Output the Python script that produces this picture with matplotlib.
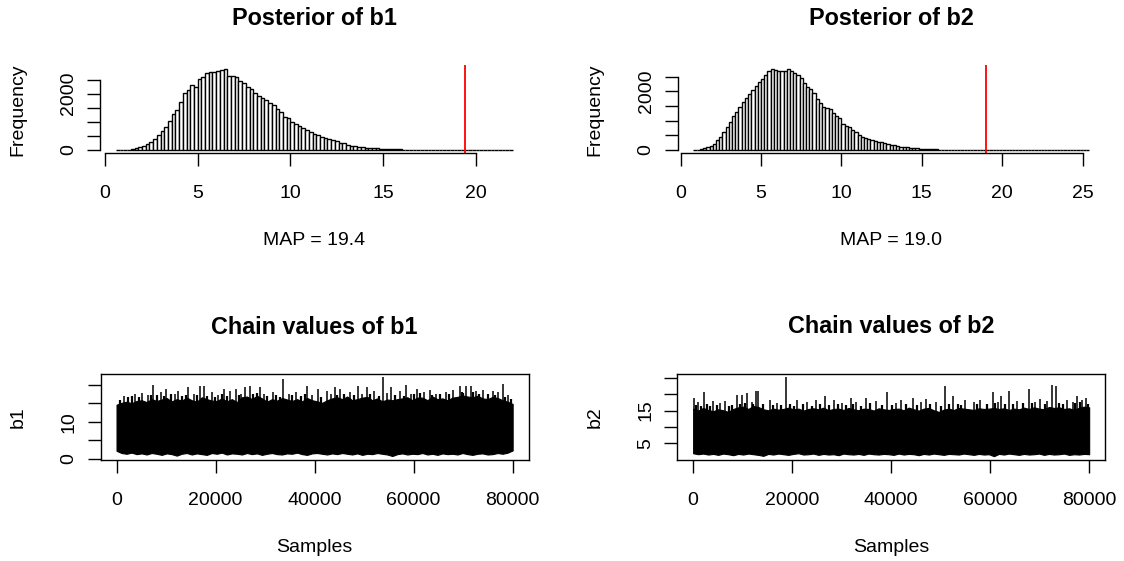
import numpy as np
import matplotlib
matplotlib.use("Agg")
import matplotlib.pyplot as plt
from matplotlib import transforms

# ---------------- data ----------------
b1_break_start = 0.6
b2_break_start = 0.8
bin_width = 0.2
b1_counts = [2, 4, 8, 15, 30, 60, 95, 140, 213, 296,
             391, 521, 687, 830, 1043, 1268, 1422, 1718, 2015, 2133,
             2311, 2252, 2512, 2607, 2726, 2761, 2785, 2820, 2850, 2890,
             2631, 2631, 2583, 2465, 2394, 2252, 2157, 2015, 1920, 1837,
             1778, 1659, 1600, 1446, 1363, 1185, 1126, 1007, 912, 865,
             770, 711, 652, 569, 533, 474, 415, 379, 356, 320,
             261, 237, 178, 150, 130, 115, 100, 85, 75, 65,
             55, 48, 40, 34, 30, 25, 21, 18, 15, 12,
             10, 8, 6, 5, 4, 3, 3, 2, 2, 2,
             1, 1, 1, 1, 1, 1, 0, 1, 0, 1,
             0, 1, 0, 1, 0, 1, 1]
b2_counts = [5, 15, 30, 55, 90, 150, 220, 330, 450, 600,
             780, 960, 1150, 1300, 1480, 1640, 1780, 1900, 2050, 2180,
             2300, 2420, 2560, 2700, 2750, 2730, 2680, 2700, 2700, 2770,
             2700, 2631, 2551, 2438, 2291, 2132, 2064, 1928, 1724, 1610,
             1474, 1418, 1383, 1270, 1157, 1077, 880, 816, 771, 680,
             601, 510, 454, 397, 363, 340, 306, 284, 261, 227,
             204, 170, 159, 147, 113, 100, 90, 79, 68, 57,
             48, 40, 34, 30, 25, 21, 18, 15, 12, 10,
             8, 7, 6, 5, 4, 3, 3, 2, 2, 2,
             1, 1, 1, 1, 1, 0, 1, 0, 1, 1,
             0, 1, 0, 0, 1, 0, 1, 0, 1, 0,
             0, 1, 0, 1, 0, 1, 0, 1, 0, 1,
             0, 1, 1]
map_b1 = 19.4
map_b2 = 19.0
n_samples = 80000

# chain envelopes, one value per 1000 samples
b1_top = [14.6, 15.1, 15.4, 15.0, 15.6, 15.8, 15.3, 16.1, 15.6, 16.0,
          16.4, 15.5, 16.1, 15.7, 16.5, 15.8, 15.4, 16.6, 16.1, 15.7,
          15.6, 16.3, 15.5, 16.1, 15.3, 16.6, 16.8, 16.1, 17.0, 16.3,
          15.4, 16.1, 15.7, 16.4, 16.0, 15.6, 16.1, 15.5, 16.4, 15.8,
          15.5, 15.1, 15.8, 16.3, 16.6, 16.1, 16.8, 15.8, 16.1, 16.5,
          16.7, 15.8, 16.3, 15.5, 16.0, 15.8, 16.1, 16.3, 16.6, 15.8,
          16.5, 16.5, 15.8, 16.8, 16.1, 16.3, 15.8, 16.5, 16.7, 17.1,
          16.8, 16.6, 17.0, 16.3, 16.1, 16.7, 16.4, 15.8, 15.4, 14.8]
b1_low = [2.2, 1.6, 1.4, 1.7, 1.3, 1.5, 1.2, 1.6, 1.4, 1.1,
          1.5, 1.3, 0.9, 1.4, 1.6, 1.2, 1.5, 1.3, 1.1, 1.6,
          1.4, 1.7, 1.2, 1.5, 1.4, 1.2, 1.6, 1.3, 1.5, 1.1,
          1.4, 1.6, 1.3, 1.2, 1.5, 1.4, 1.7, 1.3, 1.1, 1.5,
          1.6, 1.4, 1.2, 1.5, 1.3, 1.6, 1.4, 1.2, 1.5, 1.1,
          1.4, 1.3, 1.6, 1.4, 1.2, 0.8, 1.3, 1.5, 1.2, 1.4,
          1.3, 1.6, 1.2, 1.4, 1.1, 1.5, 1.3, 1.4, 1.2, 1.6,
          1.3, 1.1, 1.4, 1.5, 1.2, 1.3, 1.6, 1.4, 1.7, 2.3]
b1_spike_at = [1500, 3800, 5200, 6300, 7390, 9000, 10090, 11800, 12500, 14450,
               15600, 16940, 17610, 19300, 20500, 21710, 23000, 24200, 25100, 26020,
               26890, 28910, 29800, 31500, 33620, 34800, 36200, 38530, 39500, 40680,
               42500, 43300, 44040, 45190, 47200, 48750, 49600, 50570, 52000, 53800,
               54700, 55480, 57300, 58510, 59400, 60660, 62000, 63220, 64500, 66500,
               68000, 69270, 70610, 71620, 72630, 74000, 75990, 77000, 78010, 79000]
b1_spike_to = [17.0, 17.6, 17.8, 17.2, 19.9, 18.0, 18.9, 17.5, 18.2, 19.4,
               17.4, 19.7, 19.7, 17.9, 17.3, 18.9, 18.2, 18.9, 17.6, 19.3,
               19.5, 19.3, 17.4, 18.0, 21.5, 17.5, 18.1, 19.7, 17.3, 18.9,
               18.3, 17.6, 19.3, 18.9, 18.0, 19.7, 17.5, 19.3, 18.4, 22.0,
               17.7, 19.3, 18.2, 20.0, 17.4, 18.9, 18.0, 18.6, 17.6, 18.1,
               18.5, 19.5, 19.7, 19.5, 18.4, 18.6, 18.4, 18.0, 20.1, 17.2]
b1_minor_at = [600, 2400, 3100, 4500, 7000, 8200, 9600, 11000, 13300, 14000,
               16300, 18200, 19900, 21200, 22300, 24700, 27500, 28300, 30400, 32300,
               33100, 35500, 37300, 38000, 41300, 44600, 46000, 48000, 51200, 53100,
               56200, 58000, 60000, 61300, 63800, 65300, 67200, 69700, 70000, 72000,
               73300, 75000, 76500, 78500, 79600]
b1_minor_to = [15.9, 16.6, 16.9, 16.8, 17.1, 17.3, 16.9, 17.4, 17.0, 17.2,
               17.3, 17.0, 16.8, 17.6, 17.0, 17.2, 17.4, 17.8, 16.9, 17.1,
               16.8, 17.2, 17.0, 17.5, 16.7, 17.3, 17.6, 17.2, 17.5, 17.0,
               17.3, 17.0, 17.4, 17.7, 17.2, 17.5, 17.6, 18.0, 17.8, 17.9,
               17.4, 17.6, 17.3, 16.8, 16.2]

b2_top = [15.6, 15.0, 15.8, 15.2, 14.8, 15.4, 15.1, 14.6, 15.5, 16.0,
          16.2, 15.5, 16.4, 16.1, 15.4, 15.1, 15.6, 15.3, 15.5, 15.9,
          15.4, 15.6, 15.0, 15.5, 15.7, 15.4, 15.9, 15.1, 15.5, 15.6,
          15.2, 15.8, 15.4, 15.1, 15.6, 15.5, 15.0, 15.7, 15.4, 15.2,
          15.5, 15.6, 15.1, 15.9, 15.4, 15.0, 15.6, 15.8, 15.1, 14.6,
          15.3, 15.6, 15.2, 15.8, 15.6, 15.4, 15.2, 15.7, 15.5, 15.6,
          15.8, 15.5, 15.7, 15.2, 15.6, 15.4, 15.9, 15.5, 16.0, 15.6,
          15.4, 16.1, 15.8, 16.0, 15.5, 15.7, 15.2, 15.9, 16.2, 16.0]
b2_low = [1.9, 1.6, 1.8, 1.5, 1.7, 1.4, 1.8, 1.6, 1.3, 1.7,
          1.5, 1.8, 1.6, 1.4, 1.1, 1.7, 1.5, 1.8, 1.6, 1.4,
          1.7, 1.9, 1.5, 1.6, 1.8, 1.4, 1.7, 1.5, 1.6, 1.3,
          1.8, 1.6, 1.5, 1.7, 1.4, 1.8, 1.6, 1.5, 1.7, 1.6,
          1.4, 1.8, 1.5, 1.7, 1.6, 1.3, 1.7, 1.5, 1.8, 1.6,
          1.4, 1.7, 1.6, 1.5, 1.8, 1.6, 1.4, 1.7, 1.5, 1.6,
          1.0, 1.7, 1.5, 1.8, 1.6, 1.4, 1.7, 1.5, 1.6, 1.8,
          1.4, 1.7, 1.5, 1.6, 1.8, 1.4, 1.6, 1.5, 1.7, 1.6]
b2_spike_at = [130, 1000, 2150, 4000, 5500, 6500, 8890, 9900, 10910, 11800,
               12600, 13130, 15500, 17000, 18660, 21000, 23000, 24860, 26610, 28500,
               30000, 31800, 33000, 34970, 37000, 39210, 41000, 42000, 44400, 46000,
               47100, 49000, 50800, 52490, 55000, 56800, 58000, 60570, 61500, 62120,
               63800, 65500, 67850, 69000, 70000, 71500, 72430, 73240, 75500, 76800,
               77620, 78600, 79440]
b2_spike_to = [18.9, 17.5, 20.7, 18.0, 17.2, 17.9, 19.9, 19.7, 20.4, 17.6,
               21.1, 20.9, 18.3, 17.4, 25.3, 18.1, 17.5, 18.4, 19.4, 18.2,
               17.3, 18.9, 17.6, 18.9, 18.0, 20.7, 17.4, 18.3, 18.9, 17.5,
               18.6, 17.6, 22.6, 19.4, 18.2, 17.5, 18.4, 20.6, 17.7, 19.4,
               20.9, 18.0, 21.6, 17.6, 18.5, 17.8, 22.7, 22.4, 18.3, 17.6,
               19.4, 18.1, 18.9]
b2_minor_at = [500, 1600, 2800, 3400, 4800, 7200, 7900, 9400, 10400, 12000,
               14200, 16200, 17800, 19500, 20300, 22200, 24000, 25600, 27400, 29200,
               30800, 32200, 34000, 35700, 38200, 40200, 43000, 45200, 47800, 50000,
               51600, 53500, 54200, 57400, 59300, 61000, 63000, 64600, 66600, 68400,
               71000, 73900, 74700, 77200, 78100, 79800]
b2_minor_to = [16.8, 16.4, 16.9, 16.5, 16.6, 16.3, 16.8, 17.1, 17.3, 17.0,
               16.9, 16.7, 16.6, 17.0, 16.4, 16.9, 16.5, 17.1, 16.8, 17.0,
               16.6, 16.9, 16.5, 17.2, 16.8, 16.6, 17.0, 16.7, 17.1, 16.5,
               17.0, 17.1, 16.8, 17.0, 16.9, 17.3, 17.1, 17.0, 17.2, 17.4,
               17.1, 17.3, 17.0, 17.2, 17.5, 16.9]

# ---------------- layout ----------------
W, H = 1124, 561
plt.rcParams['font.family'] = ['Liberation Sans', 'DejaVu Sans']
fig = plt.figure(figsize=(W / 100, H / 100), dpi=100)
FS = 14
TFS = 16.8
TICKLEN = 9.1


def add_ax(x0, x1, y0, y1):
    return fig.add_axes([x0 / W, 1 - y1 / H, (x1 - x0) / W, (y1 - y0) / H])


def fx(px):
    return px / W


def fy(py):
    return 1 - py / H


def xticklabels(ax, ticks, labels, base_py):
    tr = transforms.blended_transform_factory(ax.transData, fig.transFigure)
    for t, l in zip(ticks, labels):
        fig.text(t, fy(base_py), l, transform=tr, ha='center', va='baseline',
                 fontsize=FS)


def yticklabels(ax, ticks, labels, base_px):
    tr = transforms.blended_transform_factory(fig.transFigure, ax.transData)
    for t, l in zip(ticks, labels):
        if l == "":
            continue
        fig.text(fx(base_px), t, l, transform=tr, ha='center', va='baseline',
                 rotation=90, rotation_mode='anchor', fontsize=FS)


def decorate(x0, x1, y0, y1, title, xlab, ylab):
    xc = (x0 + x1) / 2
    fig.text(fx(xc), fy(y0 - 40.5), title, ha='center', va='baseline',
             fontsize=TFS, fontweight='bold')
    fig.text(fx(xc), fy(y1 + 92), xlab, ha='center', va='baseline', fontsize=FS)
    fig.text(fx(x0 - 78), fy((y0 + y1) / 2), ylab, ha='center', va='baseline',
             rotation=90, rotation_mode='anchor', fontsize=FS)


def hist_panel(x0, x1, y0, y1, start, counts, map_val, xticks, title):
    ax = add_ax(x0, x1, y0, y1)
    counts = np.asarray(counts, dtype=float)
    edges = start + bin_width * np.arange(len(counts) + 1)
    ax.bar(edges[:-1], counts, width=bin_width, align='edge',
           facecolor='white', edgecolor='black', linewidth=1.0)
    span = edges[-1] - edges[0]
    ax.set_xlim(edges[0] - 0.04 * span, edges[-1] + 0.04 * span)
    m = counts.max()
    ax.set_ylim(-0.04 * m, 1.04 * m)
    ax.axvline(map_val, color='red', lw=1.3)
    for s in ['top', 'right']:
        ax.spines[s].set_visible(False)
    yt = [0, 500, 1000, 1500, 2000, 2500]
    ax.set_xticks(xticks)
    ax.set_yticks(yt)
    ax.spines['bottom'].set_bounds(xticks[0], xticks[-1])
    ax.spines['left'].set_bounds(0, 2500)
    for s in ['bottom', 'left']:
        ax.spines[s].set_linewidth(1.0)
    ax.tick_params(direction='out', length=TICKLEN, width=1.0,
                   labelbottom=False, labelleft=False)
    xticklabels(ax, xticks, [str(t) for t in xticks], y1 + 45)
    yticklabels(ax, yt, ["0", "", "", "", "2000", ""], x0 - 27)
    decorate(x0, x1, y0, y1, title, "MAP = %.1f" % map_val, "Frequency")
    return ax


def trace_panel(x0, x1, y0, y1, top, low, spike_at, spike_to, minor_at, minor_to,
                yrange, yticks, ylabels, title, ylab):
    ax = add_ax(x0, x1, y0, y1)
    xs = np.linspace(1, n_samples, len(top))
    ax.fill_between(xs, low, top, color='black', lw=0.8)
    base = np.interp(spike_at, xs, top)
    ax.vlines(spike_at, base - 0.5, spike_to, color='black', lw=1.1)
    base2 = np.interp(minor_at, xs, top)
    ax.vlines(minor_at, base2 - 0.5, minor_to, color='black', lw=1.6)
    ax.set_xlim(1 - 0.04 * (n_samples - 1), n_samples + 0.04 * (n_samples - 1))
    r = yrange[1] - yrange[0]
    ax.set_ylim(yrange[0] - 0.04 * r, yrange[1] + 0.04 * r)
    xt = [0, 20000, 40000, 60000, 80000]
    ax.set_xticks(xt)
    ax.set_yticks(yticks)
    for s in ax.spines.values():
        s.set_linewidth(1.0)
    ax.tick_params(direction='out', length=TICKLEN, width=1.0,
                   labelbottom=False, labelleft=False)
    xticklabels(ax, xt, [str(t) for t in xt], y1 + 45)
    yticklabels(ax, yticks, ylabels, x0 - 27)
    decorate(x0, x1, y0, y1, title, "Samples", ylab)
    return ax


hist_panel(100.2, 528.7, 65.4, 153.3, b1_break_start, b1_counts, map_b1,
           [0, 5, 10, 15, 20], "Posterior of b1")
hist_panel(677.6, 1105.0, 65.4, 153.3, b2_break_start, b2_counts, map_b2,
           [0, 5, 10, 15, 20, 25], "Posterior of b2")
trace_panel(100.7, 528.5, 374.0, 460.0, b1_top, b1_low, b1_spike_at, b1_spike_to,
            b1_minor_at, b1_minor_to,
            (0.58, 22.0), [0, 5, 10, 15, 20], ["0", "", "10", "", ""],
            "Chain values of b1", "b1")
trace_panel(677.3, 1105.0, 373.5, 460.0, b2_top, b2_low, b2_spike_at, b2_spike_to,
            b2_minor_at, b2_minor_to,
            (0.81, 25.4), [5, 10, 15, 20, 25], ["5", "", "15", "", ""],
            "Chain values of b2", "b2")

fig.savefig("out.png", dpi=100)
